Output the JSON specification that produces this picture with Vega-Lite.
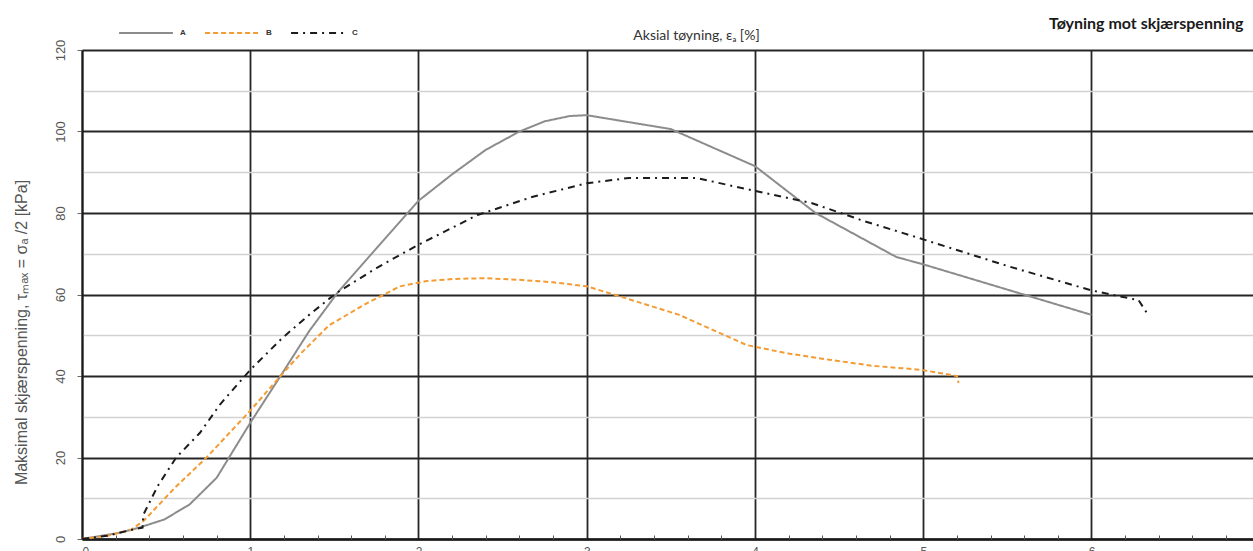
{
  "$schema": "https://vega.github.io/schema/vega-lite/v6.json",
  "autosize": {"type": "none"},
  "padding": {"left": 82, "top": 50, "right": 0, "bottom": 12},
  "width": 1171,
  "height": 489,
  "background": "white",
  "config": {"view": {"stroke": null}, "font": "Liberation Sans"},
  "title": {"text": "Tøyning mot skjærspenning", "anchor": "end", "font": "Lato", "fontSize": 16, "fontWeight": "bold", "color": "#1a1a1a", "offset": 2, "dx": -15, "dy": 29},
  "data": {"values": [
    {"s": "A", "x": 0, "y": 0}, {"s": "A", "x": 0.22, "y": 1.5}, {"s": "A", "x": 0.34, "y": 2.8}, {"s": "A", "x": 0.49, "y": 4.8}, {"s": "A", "x": 0.64, "y": 8.5}, {"s": "A", "x": 0.8, "y": 15}, {"s": "A", "x": 1.0, "y": 28.5}, {"s": "A", "x": 1.18, "y": 40}, {"s": "A", "x": 1.35, "y": 51}, {"s": "A", "x": 1.52, "y": 60.5}, {"s": "A", "x": 1.7, "y": 69}, {"s": "A", "x": 1.85, "y": 76}, {"s": "A", "x": 2.0, "y": 83}, {"s": "A", "x": 2.2, "y": 89.5}, {"s": "A", "x": 2.4, "y": 95.5}, {"s": "A", "x": 2.6, "y": 100}, {"s": "A", "x": 2.75, "y": 102.5}, {"s": "A", "x": 2.9, "y": 103.8}, {"s": "A", "x": 3.0, "y": 104}, {"s": "A", "x": 3.5, "y": 100.6}, {"s": "A", "x": 4.0, "y": 91.5}, {"s": "A", "x": 4.36, "y": 80}, {"s": "A", "x": 4.84, "y": 69.2}, {"s": "A", "x": 5.0, "y": 67.4}, {"s": "A", "x": 6.0, "y": 55},
    {"s": "B", "x": 0, "y": 0}, {"s": "B", "x": 0.15, "y": 0.8}, {"s": "B", "x": 0.29, "y": 2.2}, {"s": "B", "x": 0.37, "y": 4.6}, {"s": "B", "x": 0.55, "y": 12.5}, {"s": "B", "x": 0.74, "y": 20}, {"s": "B", "x": 1.0, "y": 31.5}, {"s": "B", "x": 1.18, "y": 40}, {"s": "B", "x": 1.3, "y": 45.5}, {"s": "B", "x": 1.47, "y": 52.5}, {"s": "B", "x": 1.7, "y": 58}, {"s": "B", "x": 1.89, "y": 62}, {"s": "B", "x": 2.05, "y": 63.3}, {"s": "B", "x": 2.2, "y": 63.8}, {"s": "B", "x": 2.4, "y": 64}, {"s": "B", "x": 2.6, "y": 63.6}, {"s": "B", "x": 2.8, "y": 63}, {"s": "B", "x": 3.0, "y": 62}, {"s": "B", "x": 3.2, "y": 59.5}, {"s": "B", "x": 3.55, "y": 55}, {"s": "B", "x": 3.95, "y": 47.6}, {"s": "B", "x": 4.2, "y": 45.5}, {"s": "B", "x": 4.44, "y": 44}, {"s": "B", "x": 4.7, "y": 42.5}, {"s": "B", "x": 4.99, "y": 41.5}, {"s": "B", "x": 5.2, "y": 40}, {"s": "B", "x": 5.21, "y": 38.3},
    {"s": "C", "x": 0, "y": 0}, {"s": "C", "x": 0.15, "y": 0.8}, {"s": "C", "x": 0.29, "y": 2.2}, {"s": "C", "x": 0.36, "y": 2.8}, {"s": "C", "x": 0.365, "y": 6}, {"s": "C", "x": 0.45, "y": 13}, {"s": "C", "x": 0.56, "y": 20}, {"s": "C", "x": 0.7, "y": 26}, {"s": "C", "x": 0.82, "y": 33}, {"s": "C", "x": 1.0, "y": 41.5}, {"s": "C", "x": 1.19, "y": 49.3}, {"s": "C", "x": 1.35, "y": 55}, {"s": "C", "x": 1.51, "y": 60.3}, {"s": "C", "x": 1.75, "y": 66.5}, {"s": "C", "x": 1.99, "y": 72}, {"s": "C", "x": 2.35, "y": 79.5}, {"s": "C", "x": 2.68, "y": 84}, {"s": "C", "x": 3.0, "y": 87.3}, {"s": "C", "x": 3.25, "y": 88.6}, {"s": "C", "x": 3.65, "y": 88.6}, {"s": "C", "x": 3.98, "y": 85.6}, {"s": "C", "x": 4.34, "y": 82.4}, {"s": "C", "x": 4.65, "y": 78}, {"s": "C", "x": 4.98, "y": 73.8}, {"s": "C", "x": 5.5, "y": 67}, {"s": "C", "x": 6.0, "y": 61}, {"s": "C", "x": 6.28, "y": 58.6}, {"s": "C", "x": 6.33, "y": 55.4}
  ]},
  "layer": [
    {
      "mark": {"type": "line", "strokeWidth": 2, "clip": true},
      "encoding": {
        "x": {"field": "x", "type": "quantitative", "scale": {"domain": [0, 6.96], "nice": false, "zero": false},
          "axis": {"orient": "bottom", "values": [0, 1, 2, 3, 4, 5, 6], "format": "d", "grid": true, "gridColor": "#262626", "gridWidth": 1.8, "domainColor": "#1a1a1a", "domainWidth": 2.5, "tickSize": 0, "labelPadding": 7, "labelFontSize": 12, "labelColor": "#555", "labelBaseline": "top", "title": null}},
        "y": {"field": "y", "type": "quantitative", "scale": {"domain": [0, 120], "nice": false},
          "axis": {"values": [0, 20, 40, 60, 80, 100, 120], "grid": true, "gridColor": "#262626", "gridWidth": 1.8, "domainColor": "#1a1a1a", "domainWidth": 2, "tickSize": 5, "tickColor": "#666", "tickWidth": 1, "labelAngle": -90, "labelAlign": "center", "labelBaseline": "bottom", "labelPadding": 10, "labelFontSize": 13, "labelColor": "#555", "title": "Maksimal skjærspenning, τₘₐₓ = σₐ /2  [kPa]", "titleFont": "Liberation Sans", "titleFontSize": 16, "titleFontWeight": "normal", "titleColor": "#555", "titleX": -61, "titleY": 282, "titleAngle": -90, "titleBaseline": "middle", "titleAlign": "center"}},
        "color": {"field": "s", "type": "nominal", "scale": {"domain": ["A", "B", "C"], "range": ["#8c8c8c", "#f39c34", "#1c1c1c"]},
          "legend": {"orient": "none", "legendX": 36, "legendY": -45, "direction": "horizontal", "title": null, "symbolType": "stroke", "symbolSize": 2900, "symbolStrokeWidth": 2, "labelFontSize": 8, "labelFontWeight": "bold", "labelColor": "#333", "columnPadding": 15, "labelOffset": 6}},
        "strokeDash": {"field": "s", "type": "nominal", "scale": {"domain": ["A", "B", "C"], "range": [[1, 0], [5, 3], [7, 5, 2, 5]]},
          "legend": {"orient": "none", "legendX": 36, "legendY": -45, "direction": "horizontal", "title": null, "symbolType": "stroke", "symbolSize": 2900, "symbolStrokeWidth": 2, "labelFontSize": 8, "labelFontWeight": "bold", "labelColor": "#333", "columnPadding": 15, "labelOffset": 6}}
      }
    },
    {
      "mark": {"type": "line", "opacity": 0},
      "encoding": {
        "x": {"field": "x", "type": "quantitative",
          "axis": {"orient": "top", "labels": false, "ticks": false, "domain": false, "grid": false, "title": "Aksial tøyning, εₐ [%]", "titleFont": "Lato", "titleFontSize": 14, "titleFontWeight": "normal", "titleColor": "#333", "titleX": 614, "titleY": -11, "titleAlign": "center", "titleBaseline": "alphabetic"}},
        "y": {"field": "y", "type": "quantitative",
          "axis": {"values": [10, 30, 50, 70, 90, 110], "grid": true, "gridColor": "#d2d2d2", "gridWidth": 1.5, "tickSize": 5, "tickColor": "#888", "labels": false, "domain": false, "title": null}},
        "detail": {"field": "s"}
      }
    },
    {
      "mark": {"type": "line", "opacity": 0},
      "encoding": {
        "x": {"field": "x", "type": "quantitative",
          "axis": {"orient": "bottom", "values": [0.2, 0.4, 0.6, 0.8, 1.2, 1.4, 1.6, 1.8, 2.2, 2.4, 2.6, 2.8, 3.2, 3.4, 3.6, 3.8, 4.2, 4.4, 4.6, 4.8, 5.2, 5.4, 5.6, 5.8, 6.2, 6.4, 6.6, 6.8], "tickSize": -4, "tickColor": "#555", "labels": false, "domain": false, "grid": false, "title": null}},
        "y": {"field": "y", "type": "quantitative", "axis": null},
        "detail": {"field": "s"}
      }
    }
  ],
  "resolve": {"axis": {"x": "independent", "y": "independent"}}
}
